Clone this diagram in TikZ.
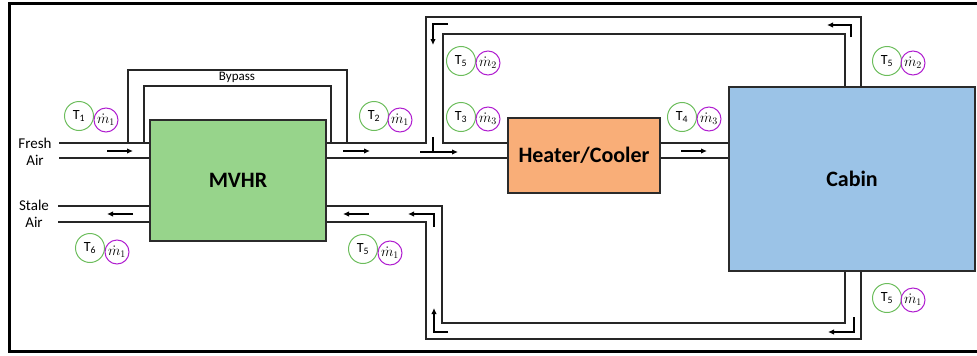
\documentclass[tikz,border=0pt]{standalone}
\usepackage{fontspec}
\setmainfont{Carlito}
\usetikzlibrary{arrows.meta}
\definecolor{pipecol}{HTML}{262626}
\definecolor{boxline}{HTML}{2B2B2B}
\definecolor{tgreen}{HTML}{6CBD5C}
\definecolor{mmag}{HTML}{B01FD0}
\definecolor{mvhrfill}{HTML}{97D48B}
\definecolor{heatfill}{HTML}{F9AE78}
\definecolor{cabinfill}{HTML}{9BC3E7}
\begin{document}
\begin{tikzpicture}[x=1pt,y=-1pt,
  pipe/.style={draw=pipecol, line width=1.3pt},
  flow/.style={draw=black, line width=1.3pt, -{Latex[length=6pt,width=5.5pt]}},
  unit/.style={draw=boxline, line width=1.5pt, inner sep=0pt, font=\fontsize{22}{24}\selectfont\bfseries},
  ttext/.style={inner sep=0pt, font=\fontsize{14}{14}\selectfont},
  mtext/.style={inner sep=0pt, font=\fontsize{14}{14}\selectfont},
  tring/.style={draw=tgreen, line width=1pt},
  mring/.style={draw=mmag, line width=1pt},
  lbl/.style={inner sep=0pt, font=\fontsize{15}{15}\selectfont}]
\useasboundingbox (0,0) rectangle (977,356);
% frame
\draw[line width=3pt] (977,3) -- (9,3) -- (9,351) -- (977,351);
% units
\node[unit, fill=mvhrfill, minimum width=176pt, minimum height=121pt] (mvhr) at (238,180.5) {MVHR};
\node[unit, fill=heatfill, minimum width=152pt, minimum height=75pt] (heater) at (584,155.5) {Heater/Cooler};
\node[unit, fill=cabinfill, minimum width=246pt, minimum height=184pt] (cabin) at (852,179) {Cabin};
% side labels
\node[lbl] (fresh) at (35,143) {Fresh};
\node[lbl] (freshair) at (35,160) {Air};
\node[lbl] (stale) at (34,205) {Stale};
\node[lbl] (staleair) at (34,222) {Air};
\node[inner sep=0pt, font=\fontsize{13}{13}\selectfont] (bypass) at (237,77) {Bypass};
% coordinates
\coordinate (fa1) at (59,143);
\coordinate (fa2) at (59,158);
\coordinate (sa1) at (58,206);
\coordinate (sa2) at (58,222);
% fresh air in
\draw[pipe] (fa1) -- (mvhr.west |- fa1);
\draw[pipe] (fa2) -- (mvhr.west |- fa2);
% bypass
\draw[pipe] (128,143) -- (128,70) -- (347,70) -- (347,143);
\draw[pipe] (144,143) -- (144,86) -- (331,86) -- (331,143);
% supply side
\draw[pipe] (mvhr.east |- fa1) -- (426,143) -- (426,17) -- (861,17) -- (861,87);
\draw[pipe] (cabin.north -| 845,0) -- (845,34) -- (443,34) -- (443,143) -- (heater.west |- fa1);
\draw[pipe] (mvhr.east |- fa2) -- (heater.west |- fa2);
\draw[pipe] (heater.east |- fa1) -- (cabin.west |- fa1);
\draw[pipe] (heater.east |- fa2) -- (cabin.west |- fa2);
% return side
\draw[pipe] (cabin.south -| 845,0) -- (845,323) -- (442,323) -- (442,206) -- (mvhr.east |- sa1);
\draw[pipe] (cabin.south -| 861,0) -- (861,339) -- (426,339) -- (426,222) -- (mvhr.east |- sa2);
% stale air out
\draw[pipe] (sa1) -- (mvhr.west |- sa1);
\draw[pipe] (sa2) -- (mvhr.west |- sa2);
% flow arrows
\draw[flow] (107,151) -- (133,151);
\draw[flow] (343,151) -- (370,151);
\draw[line width=1.3pt] (433,137) -- (433,152);
\draw[flow] (420,152) -- (458,152);
\draw[flow] (448,24) -- (433,24) -- (433,45);
\draw[flow] (851,37) -- (851,25) -- (827,25);
\draw[flow] (681,151) -- (707,151);
\draw[flow] (133,214) -- (107,214);
\draw[flow] (369,214) -- (343,214);
\draw[flow] (434,227) -- (434,214) -- (408,214);
\draw[flow] (448,332) -- (434,332) -- (434,308);
\draw[flow] (854,317) -- (854,332) -- (828,332);
% sensors: temperature (green) and mass flow (magenta)
\foreach \tn/\tx/\ty/\ti/\mx/\my/\mi in {
  t1/79/116/1/106/120/1, t2/374/116/2/400/120/1, t6/90/248/6/117/252/1,
  t5a/363/249/5/390/253/1, t5b/461/61/5/488/63/2, t3/461/117/3/488/119/3,
  t4/682/117/4/709/119/3, t5c/887/61/5/913/63/2, t5d/887/298/5/913/300/1} {
  \node[ttext] (\tn) at (\tx,\ty) {T\textsubscript{\ti}};
  \draw[tring] (\tn) circle (14.5pt);
  \node[mtext] (m\tn) at (\mx,\my) {$\dot{m}_{\mi}$};
  \draw[mring] (m\tn) circle (12pt);
}
\end{tikzpicture}
\end{document}
